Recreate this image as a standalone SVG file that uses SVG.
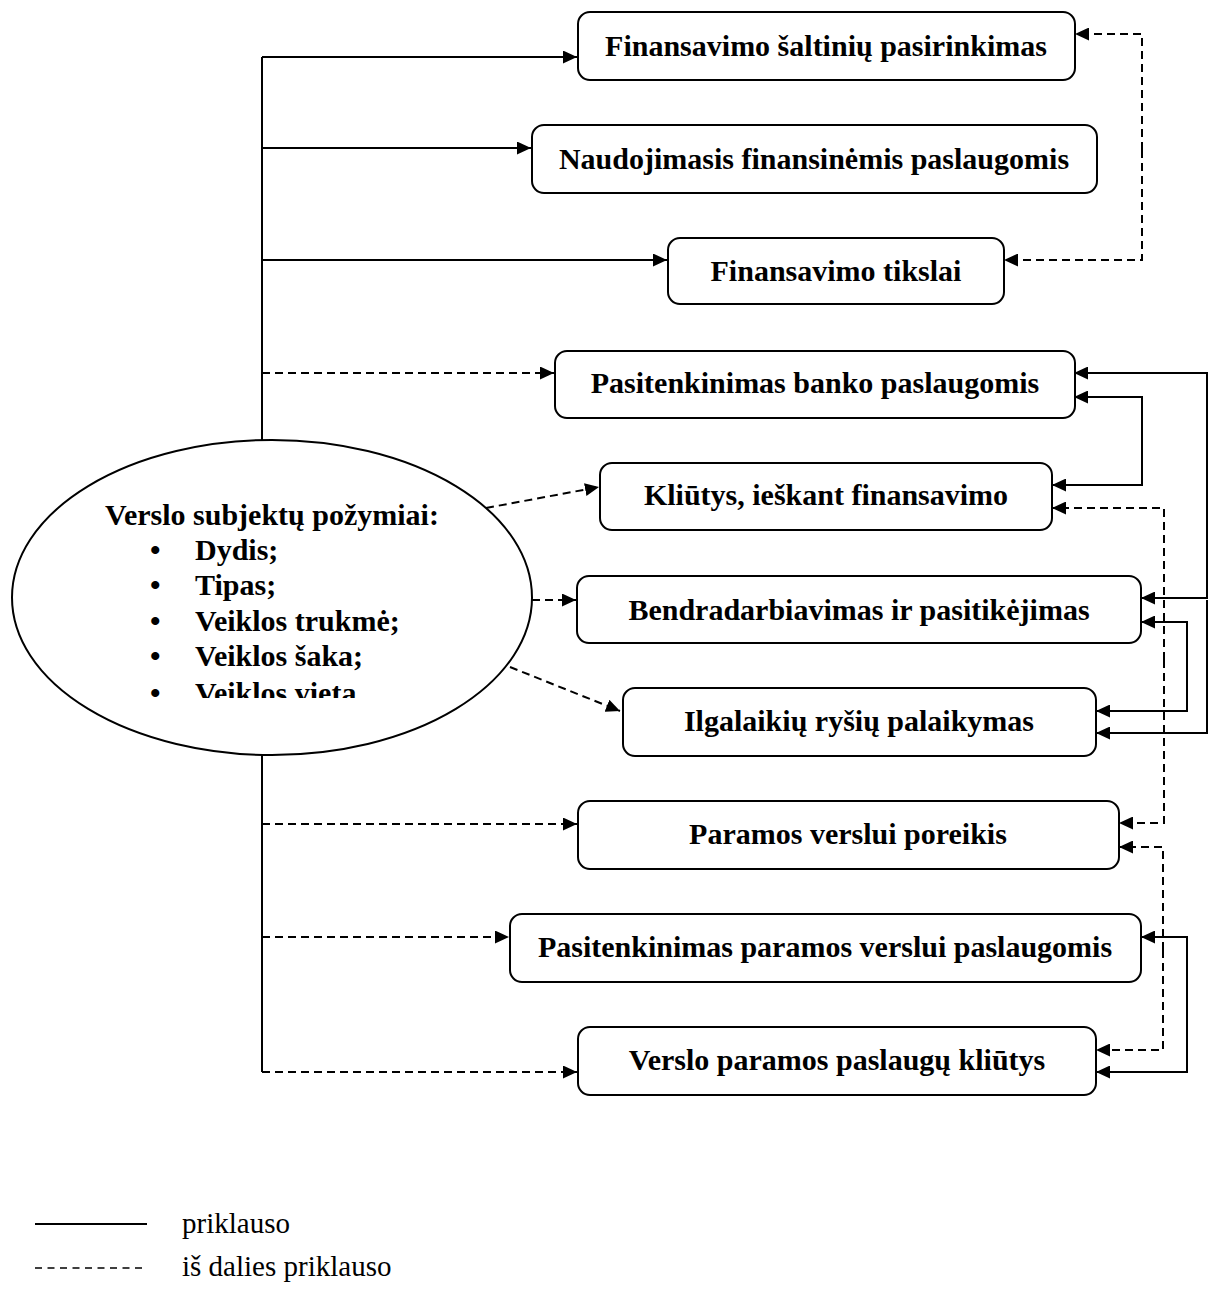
<svg xmlns="http://www.w3.org/2000/svg" width="1209" height="1297" viewBox="0 0 1209 1297">
<style>
.box{fill:#fff;stroke:#000;stroke-width:2}
.t{font-family:"Liberation Serif","Times New Roman",serif;font-weight:bold;font-size:30px;fill:#000}
.c{text-anchor:middle}
.lg{font-family:"Liberation Serif","Times New Roman",serif;font-size:29px;fill:#000}
.s{fill:none;stroke:#000;stroke-width:2}
.d{fill:none;stroke:#000;stroke-width:2;stroke-dasharray:8,5}
.a{marker-end:url(#ah)}
</style>
<defs>
<marker id="ah" markerUnits="userSpaceOnUse" markerWidth="14" markerHeight="13" refX="14" refY="6.5" orient="auto">
<path d="M0,0 L14,6.5 L0,13 z" fill="#000"/>
</marker>
<clipPath id="ec"><rect x="0" y="430" width="560" height="268"/></clipPath>
</defs>
<g id="connectors">
<path class="s" d="M262,440 V57"/>
<path class="s" d="M262,755 V1072"/>
<path class="s a" d="M262,57 H577"/>
<path class="s a" d="M262,148 H531"/>
<path class="s a" d="M262,260 H667"/>
<path class="d a" d="M262,373 H554"/>
<path class="d a" d="M262,824 H577"/>
<path class="d a" d="M262,937 H509"/>
<path class="d a" d="M262,1072 H577"/>
<path class="d a" d="M486,508 L599,487"/>
<path class="d a" d="M532,600 H576"/>
<path class="d a" d="M510,667 L620,711"/>
<path class="d a" d="M1142,150 V34 H1075"/>
<path class="d a" d="M1142,150 V260 H1004"/>
<path class="s a" d="M1207,500 V373 H1074"/>
<path class="s a" d="M1207,500 V598 H1141"/>
<path class="s a" d="M1207,600 V733 H1096"/>
<path class="s a" d="M1142,440 V397 H1074"/>
<path class="s a" d="M1142,440 V485 H1052"/>
<path class="d a" d="M1164,660 V508 H1052"/>
<path class="d a" d="M1164,660 V823 H1119"/>
<path class="s a" d="M1187,660 V622 H1141"/>
<path class="s a" d="M1187,660 V711 H1096"/>
<path class="d a" d="M1163,950 V847 H1119"/>
<path class="d a" d="M1163,950 V1050 H1096"/>
<path class="s a" d="M1187,1000 V937 H1141"/>
<path class="s a" d="M1187,1000 V1072 H1096"/>
</g>
<g id="n-ellipse">
<ellipse cx="272" cy="597.5" rx="260" ry="157.5" fill="#fff" stroke="#000" stroke-width="2"/>
<g clip-path="url(#ec)">
<text class="t" x="105" y="525">Verslo subjektų požymiai:</text>
<text class="t" x="150" y="560">•</text><text class="t" x="195" y="560">Dydis;</text>
<text class="t" x="150" y="595">•</text><text class="t" x="195" y="595">Tipas;</text>
<text class="t" x="150" y="630.5">•</text><text class="t" x="195" y="630.5">Veiklos trukmė;</text>
<text class="t" x="150" y="666">•</text><text class="t" x="195" y="666">Veiklos šaka;</text>
<text class="t" x="150" y="703">•</text><text class="t" x="195" y="703">Veiklos vieta.</text>
</g>
</g>
<g id="n1"><rect class="box" x="578" y="12" width="497" height="68" rx="12"/><text class="t c" x="826" y="56">Finansavimo šaltinių pasirinkimas</text></g>
<g id="n2"><rect class="box" x="532" y="125" width="565" height="68" rx="12"/><text class="t c" x="814" y="169">Naudojimasis finansinėmis paslaugomis</text></g>
<g id="n3"><rect class="box" x="668" y="238" width="336" height="66" rx="12"/><text class="t c" x="836" y="281">Finansavimo tikslai</text></g>
<g id="n4"><rect class="box" x="555" y="351" width="520" height="67" rx="12"/><text class="t c" x="815" y="393">Pasitenkinimas banko paslaugomis</text></g>
<g id="n5"><rect class="box" x="600" y="463" width="452" height="67" rx="12"/><text class="t c" x="826" y="505">Kliūtys, ieškant finansavimo</text></g>
<g id="n6"><rect class="box" x="577" y="576" width="564" height="67" rx="12"/><text class="t c" x="859" y="620">Bendradarbiavimas ir pasitikėjimas</text></g>
<g id="n7"><rect class="box" x="623" y="688" width="473" height="68" rx="12"/><text class="t c" x="859" y="731">Ilgalaikių ryšių palaikymas</text></g>
<g id="n8"><rect class="box" x="578" y="801" width="541" height="68" rx="12"/><text class="t c" x="848" y="844">Paramos verslui poreikis</text></g>
<g id="n9"><rect class="box" x="510" y="914" width="631" height="68" rx="12"/><text class="t c" x="825" y="957">Pasitenkinimas paramos verslui paslaugomis</text></g>
<g id="n10"><rect class="box" x="578" y="1027" width="518" height="68" rx="12"/><text class="t c" x="837" y="1070">Verslo paramos paslaugų kliūtys</text></g>
<g id="legend">
<line x1="35" y1="1224" x2="147" y2="1224" stroke="#000" stroke-width="2"/>
<text class="lg" x="182" y="1233">priklauso</text>
<line x1="35" y1="1268" x2="147" y2="1268" stroke="#000" stroke-width="1.5" stroke-dasharray="7,5.5"/>
<text class="lg" x="182" y="1276">iš dalies priklauso</text>
</g>
</svg>
